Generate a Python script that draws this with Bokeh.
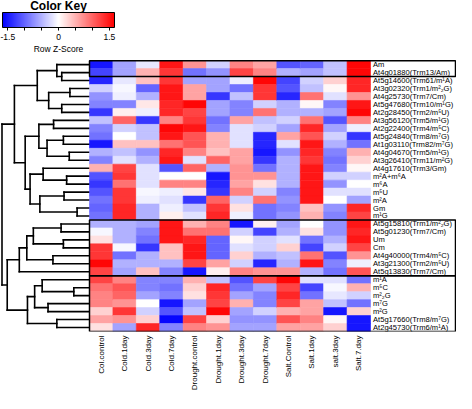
import numpy as np
from math import pi
from bokeh.plotting import figure
from bokeh.models import (ColumnDataSource, LinearColorMapper, ColorBar,
                          FixedTicker, Range1d)
from bokeh.transform import transform
from bokeh.core.properties import value
from bokeh.embed import file_html
from bokeh.resources import INLINE

# ---------------- data ----------------
conditions = ["Col.control", "Cold.1day", "Cold.3day", "Cold.7day",
              "Drought.control", "Drought.1day", "Drought.3day", "Drought.7day",
              "Salt.Control", "Salt.1day", "salt.3day", "Salt.7.day"]

row_labels = [
    "Am", "At4g01880(Trm13/Am)", "At5g14600(Trm61/m\u00b9A)",
    "At3g02320(Trm1/m\u00b2\u2082G)", "At4g25730(Trm7/Cm)",
    "At5g47680(Trm10/m\u00b9G)", "At2g28450(Trm2/m\u2075U)",
    "At3g56120(Trm5/m\u00b9G)", "At2g22400(Trm4/m\u2075C)",
    "At5g24840(Trm8/m\u2077G)", "At1g03110(Trm82/m\u2077G)",
    "At4g04670(Trm5/m\u00b9G)", "At3g26410(Trm11/m\u00b2G)",
    "At4g17610(Trm3/Gm)", "m\u00b2A+m\u2076A", "m\u2076A", "m\u2075U",
    "m\u00b2A", "Gm", "m\u00b9G", "At5g15810(Trm1/m\u00b2\u2082G)",
    "At5g01230(Trm7/Cm)", "Um", "Cm", "At4g40000(Trm4/m\u2075C)",
    "At3g21300(Trm2/m\u2075U)", "At5g13830(Trm7/Cm)", "m\u00b9A",
    "m\u2075C", "m\u00b2\u2082G", "m\u2077G", "m\u00b2G",
    "At5g17660(Trm8/m\u2077G)", "At2g45730(Trm6/m\u00b9A)"]

# row z-scores, one list per condition (top row first)
col_control = [-1.5, -1.2, -1.4, -0.3, -0.7, -0.8, -1.3, -0.4, -0.8, -0.9, -1.5, -0.5, -0.8, 0.5, -1.1, -1.3, -1.1,
               -0.9, -1.0, -0.9, -0.5, -0.05, 0.2, 1.3, 1.3, 1.6, 1.2, 1.2, 0.9, 0.8, 0.8, 0.3, 0.6, 0.2]
cold_1day = [-0.6, -0.6, -0.15, -0.05, -0.1, -0.8, 0.1, 1.0, -0.3, 0.0, 0.4, -0.4, -0.2, 1.2, 1.3, 0.9, 1.3,
             1.3, 1.4, 1.4, -0.5, -0.5, -0.5, -0.05, -0.9, -0.5, -0.6, 0.8, 1.1, 1.0, 0.7, 1.3, 0.7, -0.6]
cold_3day = [-0.15, 0.5, 0.4, -1.0, -0.5, 0.15, -0.1, -1.3, -0.4, -0.4, 0.4, -0.7, -0.5, -0.2, -0.2, -0.2, -0.05,
             -0.1, -0.5, -0.5, -0.6, -0.8, -0.9, -1.3, -0.5, -0.5, 0.4, -0.8, -0.8, -0.6, 0.0, -0.3, 0.3, 1.4]
cold_7day = [1.5, 1.3, 1.3, 1.5, 1.5, 1.4, 1.4, 0.8, 1.6, 1.5, 0.9, 1.4, 1.5, -1.1, 0.0, 0.8, -0.1,
             -0.2, -0.1, 0.1, 1.5, 1.5, 1.5, 0.4, 0.4, -0.5, -0.8, -0.8, -0.9, -0.8, -1.5, -1.1, -1.6, -0.8]
drought_control = [0.7, -0.9, -0.6, 0.6, 0.6, 1.6, 1.2, 1.3, 1.5, 1.1, 1.1, 0.8, -0.2, 1.0, 0.0, 0.8, 0.15,
                   -1.3, -0.4, -0.2, 0.5, 0.9, 1.4, 1.5, 1.5, 1.2, -1.5, 0.5, 0.3, 0.2, -0.6, -0.4, 1.2, 0.8]
drought_1day = [-0.3, -0.7, -0.6, -0.6, -1.3, -0.6, -0.6, -0.9, -0.8, 0.5, 0.5, 0.4, 1.0, -0.5, -1.5, -1.4, -1.3,
                1.0, 1.3, 1.4, 0.8, 0.9, -1.0, -1.0, -1.0, 0.6, 0.1, -0.4, 1.4, 1.3, 1.2, 1.6, 0.3, 0.7]
drought_3day = [0.8, 1.2, -0.1, -0.9, -0.4, -0.8, -0.8, 0.6, -0.2, -0.2, -0.2, 0.6, 0.6, 0.7, 0.7, 0.6, 0.8,
                -0.3, 0.2, -0.1, -1.5, -0.3, 0.05, -0.2, 0.3, -0.3, 0.8, -1.1, -0.9, -0.6, 0.5, -0.6, -0.7, -0.6]
drought_7day = [0.6, 0.8, 1.6, 1.3, 1.3, -0.3, 0.9, -0.4, -0.3, -1.4, -1.4, -1.5, -1.3, -0.9, 0.7, 0.2, -0.3,
                0.9, -0.9, -0.9, 0.1, -1.2, -0.3, -0.3, -0.5, -1.4, 0.7, 1.2, -0.6, -0.8, -0.8, -0.3, -0.7, -0.6]
salt_control = [-1.1, -0.5, -1.2, -1.1, -1.4, -0.5, -0.5, -0.3, -0.6, 0.6, -0.2, -0.7, -0.5, -0.5, -0.5, -0.5, -0.8,
                -0.7, -0.8, -0.7, -0.6, -0.5, -0.2, 0.3, -0.4, -0.5, 0.7, 1.6, 1.2, 1.4, 1.2, 0.5, 1.1, 0.6]
salt_1day = [-1.0, -0.6, -0.3, -0.4, 0.9, 0.05, -0.5, 0.9, 1.4, 1.1, 1.5, 1.4, 1.3, 1.5, 1.5, 1.5, 1.5,
             1.5, 0.4, 0.5, 0.0, 0.2, -0.9, -1.2, 0.9, 1.5, -0.5, -0.2, -1.2, -0.9, 0.6, 0.6, 0.8, 0.6]
salt_3day = [-0.4, -0.4, 0.3, 0.05, -0.2, -0.8, -0.6, -1.1, -0.6, -0.3, -0.5, -0.8, -0.9, -0.8, -0.3, -0.7, -0.2,
             0.0, -0.7, -0.8, -0.7, -0.7, -0.5, -0.3, -1.1, -0.8, -0.9, -0.2, -0.05, -0.15, -0.4, -1.5, 0.05, 0.3]
salt_7day = [1.6, 1.6, 1.4, 1.4, 0.7, 1.5, 1.6, 0.8, -0.1, -1.3, -0.9, 0.5, 0.3, 0.05, -0.3, 0.0, -0.2,
             -0.6, 1.4, 1.2, 1.5, 1.4, 1.5, 1.2, 0.7, -0.1, 1.1, -0.9, 0.5, -0.3, -0.9, 0.3, -1.5, -1.5]

columns_data = [col_control, cold_1day, cold_3day, cold_7day, drought_control, drought_1day,
                drought_3day, drought_7day, salt_control, salt_1day, salt_3day, salt_7day]

# row dendrogram (leaves 0..33 in display order, merged nodes numbered from 34)
dend_left = [1, 0, 3, 5, 36, 35, 7, 9, 11, 41, 40, 14, 13, 16, 18, 47, 46, 44, 39,
             20, 22, 53, 24, 55, 57, 28, 27, 30, 60, 32, 62, 58, 52]
dend_right = [2, 34, 4, 6, 37, 38, 8, 10, 12, 42, 43, 15, 45, 17, 19, 48, 49, 50, 51,
              21, 23, 54, 25, 56, 26, 29, 59, 31, 61, 33, 63, 64, 65]
dend_height = [85, 100, 60, 85, 125, 160, 110, 80, 62, 130, 155, 70, 142, 78, 38, 152, 182, 197, 230,
               87, 80, 172, 112, 192, 215, 48, 145, 127, 168, 100, 190, 252, 268]

# rows enclosed in black boxes (first, last)
box_rows = [(0, 1), (20, 26), (27, 33)]

key_major = [-1.5, 0, 1.5]
key_minor = [-1, -0.5, 0.5, 1]
key_limit = 1.65

n_rows = len(row_labels)
n_cols = len(conditions)
for c in columns_data:
    assert len(c) == n_rows, len(c)

# ---------------- layout ----------------
W, H = 456, 393
frame_h = 333
heat_left_px, heat_right_px = 89, 370
heat_top_px = 60.5
col_px = (heat_right_px - heat_left_px) / n_cols
row_px = (frame_h - heat_top_px) / n_rows
x_start = -heat_left_px / col_px
x_end = x_start + W / col_px
y_end = n_rows + heat_top_px / row_px

dend_px_per_unit = (heat_left_px - 1.5) / max(dend_height)

p = figure(width=W, height=H, x_range=Range1d(x_start, x_end), y_range=Range1d(0, y_end),
           output_backend="svg", toolbar_location=None, y_axis_location=None,
           min_border_left=0, min_border_right=0, min_border_top=0, min_border_bottom=H - frame_h)
p.grid.visible = False
p.outline_line_color = None
p.background_fill_color = "white"
p.border_fill_color = "white"

p.extra_x_ranges = {
    "dend": Range1d(heat_left_px / dend_px_per_unit, (heat_left_px - W) / dend_px_per_unit),
    "px": Range1d(0, W)}
p.extra_y_ranges = {"px": Range1d(frame_h, 0)}

# palette blue-white-red
pal = []
for t in np.linspace(0, 1, 255):
    if t < 0.5:
        f = t / 0.5
        r = g = int(round(255 * f)); b = 255
    else:
        f = (t - 0.5) / 0.5
        r = 255; g = b = int(round(255 * (1 - f)))
    pal.append("#%02x%02x%02x" % (r, g, b))
mapper = LinearColorMapper(palette=pal, low=-key_limit, high=key_limit)

# dendrogram
ypos = {i: n_rows - 0.5 - i for i in range(n_rows)}
hgt = {i: 0.0 for i in range(n_rows)}
x0s, y0s, x1s, y1s = [], [], [], []
for k, (a, b, h) in enumerate(zip(dend_left, dend_right, dend_height)):
    node = n_rows + k
    for c in (a, b):
        x0s.append(hgt[c]); x1s.append(h); y0s.append(ypos[c]); y1s.append(ypos[c])
    x0s.append(h); x1s.append(h); y0s.append(ypos[a]); y1s.append(ypos[b])
    ypos[node] = (ypos[a] + ypos[b]) / 2
    hgt[node] = h
p.segment(x0s, y0s, x1s, y1s, x_range_name="dend", line_color="black",
          line_width=1.6, line_cap="square")

# heatmap
xs, ys, zs = [], [], []
for j, col in enumerate(columns_data):
    for i, v in enumerate(col):
        xs.append(j + 0.5); ys.append(n_rows - 0.5 - i); zs.append(v)
src = ColumnDataSource(dict(x=xs, y=ys, z=zs))
p.rect("x", "y", 1, 1, source=src, fill_color=transform("z", mapper),
       line_color=transform("z", mapper), line_width=0.6)

# boxes
box_right = x_end - 1.0 / col_px
p.quad(left=[0] * len(box_rows), right=[box_right] * len(box_rows),
       top=[n_rows - a for a, b in box_rows], bottom=[n_rows - 1 - b for a, b in box_rows],
       fill_color=None, line_color="black", line_width=1.5)

# row labels
p.text(x=[n_cols] * n_rows, y=[n_rows - 0.5 - i for i in range(n_rows)], text=row_labels,
       x_offset=2.5, text_baseline="middle", text_align="left", text_font_size="7.6px",
       text_font=value("Liberation Sans"), text_color="black")

# column labels via bottom axis
ax = p.xaxis[0]
ax.ticker = FixedTicker(ticks=[j + 0.5 for j in range(n_cols)])
ax.major_label_overrides = {j + 0.5: name for j, name in enumerate(conditions)}
ax.major_label_orientation = pi / 2
ax.axis_line_color = None
ax.major_tick_line_color = None
ax.minor_tick_line_color = None
ax.major_tick_out = 0
ax.major_tick_in = 0
ax.major_label_standoff = 4
ax.major_label_text_font_size = "8px"
ax.major_label_text_font = "Liberation Sans"
ax.major_label_text_color = "black"

# color key
cb = ColorBar(color_mapper=mapper, orientation="horizontal", width=112, height=15,
              location=(2, frame_h - 44), padding=0,
              ticker=FixedTicker(ticks=key_major, minor_ticks=key_minor),
              major_label_overrides={v: ("%g" % v) for v in key_major},
              major_tick_in=0, major_tick_out=3, minor_tick_in=0, minor_tick_out=3,
              major_tick_line_color="black", minor_tick_line_color="black",
              label_standoff=3, major_label_text_font_size="8.5px",
              major_label_text_font="Liberation Sans", major_label_text_color="black",
              bar_line_color="black", background_fill_alpha=0, border_line_color=None)
p.add_layout(cb)

p.text(x=[58], y=[6], text=["Color Key"], x_range_name="px", y_range_name="px",
       text_align="center", text_baseline="middle", text_font_size="12px",
       text_font_style="bold", text_font=value("Liberation Sans"), text_color="black")
p.text(x=[58], y=[49], text=["Row Z-Score"], x_range_name="px", y_range_name="px",
       text_align="center", text_baseline="middle", text_font_size="8.5px",
       text_font=value("Liberation Sans"), text_color="black")

open("out.html", "w").write(file_html(p, INLINE))
